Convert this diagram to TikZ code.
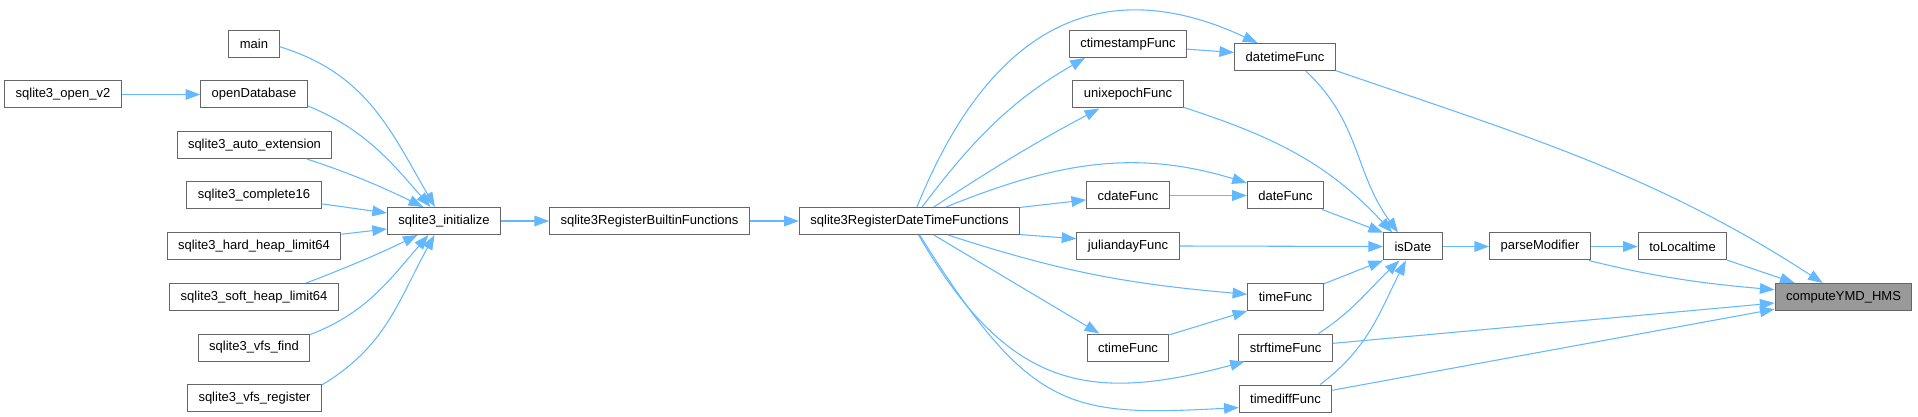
\documentclass[tikz,border=0pt]{standalone}
\usepackage{fontspec}
\setmainfont{Liberation Sans}
\usepackage{xcolor}
\usepackage{tikz}
\usetikzlibrary{arrows.meta}
\definecolor{edgeblue}{HTML}{63B8FF}
\definecolor{boxline}{HTML}{666666}
\definecolor{hitgray}{HTML}{999999}
\tikzset{
  fn/.style={draw=boxline, fill=white, line width=0.75pt, minimum height=20.25pt, inner xsep=8.25pt, inner ysep=0pt, font=\fontsize{9.75}{11}\selectfont},
  hit/.style={fn, fill=hitgray},
  call/.style={draw=edgeblue, line width=0.8pt, -{Triangle[length=11pt,width=8pt]}},
}
\begin{document}
\begin{tikzpicture}[x=0.75pt,y=0.75pt]
  \useasboundingbox (0,0) rectangle (1918,-417);
  \node[fn] (openv2) at (63,-94.5) {sqlite3\_open\_v2};
  \node[fn] (main) at (254,-44) {main};
  \node[fn] (opendb) at (254,-94.5) {openDatabase};
  \node[fn] (autoext) at (254.5,-145) {sqlite3\_auto\_extension};
  \node[fn] (compl) at (254,-195.5) {sqlite3\_complete16};
  \node[fn] (hardlim) at (254,-246.5) {sqlite3\_hard\_heap\_limit64};
  \node[fn] (softlim) at (254,-297) {sqlite3\_soft\_heap\_limit64};
  \node[fn] (vfsfind) at (254,-347.5) {sqlite3\_vfs\_find};
  \node[fn] (vfsreg) at (254.5,-398) {sqlite3\_vfs\_register};
  \node[fn] (init) at (444,-221) {sqlite3\_initialize};
  \node[fn] (builtin) at (649.5,-221) {sqlite3RegisterBuiltinFunctions};
  \node[fn] (dtreg) at (909.5,-221) {sqlite3RegisterDateTimeFunctions};
  \node[fn] (ctstamp) at (1128,-44) {ctimestampFunc};
  \node[fn] (unixep) at (1128,-94.5) {unixepochFunc};
  \node[fn] (cdate) at (1128,-195.5) {cdateFunc};
  \node[fn] (jday) at (1128,-246) {juliandayFunc};
  \node[fn] (ctime) at (1128,-347.5) {ctimeFunc};
  \node[fn] (dtime) at (1285,-57) {datetimeFunc};
  \node[fn] (date) at (1285.5,-195.5) {dateFunc};
  \node[fn] (time) at (1285.5,-297) {timeFunc};
  \node[fn] (strf) at (1285.5,-347.5) {strftimeFunc};
  \node[fn] (tdiff) at (1285.5,-398.5) {timediffFunc};
  \node[fn] (isdate) at (1413,-246.5) {isDate};
  \node[fn] (parsemod) at (1540,-246.5) {parseModifier};
  \node[fn] (toloc) at (1682.5,-246.5) {toLocaltime};
  \node[hit] (ymd) at (1843.5,-297) {computeYMD\_HMS};

  \draw[call] (openv2.east) -- (opendb.west);
  \draw[call] (main.-6) .. controls +(-17:90) and +(120:90) .. (init.123);
  \draw[call] (opendb.-12) .. controls +(-22:60) and +(131:60) .. (init.134);
  \draw[call] (autoext.-15) .. controls +(-18:45) and +(154:45) .. (init.146);
  \draw[call] (compl.-7) -- (init.172);
  \draw[call] (hardlim.8) -- (init.188);
  \draw[call] (softlim.15) .. controls +(21:45) and +(206:45) .. (init.208);
  \draw[call] (vfsfind.13) .. controls +(21:60) and +(229:60) .. (init.222);
  \draw[call] (vfsreg.11) .. controls +(31:75) and +(241:75) .. (init.236);
  \draw[call] (init.east) -- (builtin.west);
  \draw[call] (builtin.east) -- (dtreg.west);

  \draw[call] (dtreg.62) .. controls +(68:220) and +(155:150) .. (dtime.153);
  \draw[call] (dtreg.48) .. controls +(53:85) and +(210:85) .. (ctstamp.198);
  \draw[call] (dtreg.30) .. controls +(33:75) and +(208:75) .. (unixep.206);
  \draw[call] (dtreg.21) .. controls +(22:118) and +(163:118) .. (date.162);
  \draw[call] (dtreg.7) -- (cdate.186);
  \draw[call] (dtreg.-7) -- (jday.172);
  \draw[call] (dtreg.-20) .. controls +(-18:120) and +(175:120) .. (time.176);
  \draw[call] (dtreg.-30) -- (ctime.154);
  \draw[call] (dtreg.-57) .. controls +(-60:180) and +(195:160) .. (strf.199);
  \draw[call] (dtreg.-54) .. controls +(-58:210) and +(183:170) .. (tdiff.191);
  \draw[call] (ctstamp.-5) -- (dtime.175);
  \draw[call] (cdate.east) -- (date.west);
  \draw[call] (ctime.17) -- (time.200);

  \draw[call] (dtime.-34) .. controls +(-43:75) and +(126:75) .. (isdate.137);
  \draw[call] (unixep.-13) .. controls +(-18:95) and +(133:95) .. (isdate.146);
  \draw[call] (date.-21) -- (isdate.155);
  \draw[call] (jday.east) -- (isdate.west);
  \draw[call] (time.19) -- (isdate.205);
  \draw[call] (strf.23) .. controls +(33:42) and +(223:42) .. (isdate.226);
  \draw[call] (tdiff.22) .. controls +(37:60) and +(243:60) .. (isdate.243);
  \draw[call] (isdate.east) -- (parsemod.west);
  \draw[call] (parsemod.east) -- (toloc.west);

  \draw[call] (dtime.-15) .. controls +(-19:200) and +(147:200) .. (ymd.146);
  \draw[call] (toloc.-17) -- (ymd.164);
  \draw[call] (parsemod.-16) .. controls +(-14:70) and +(175:70) .. (ymd.174);
  \draw[call] (strf.5) -- (ymd.185);
  \draw[call] (tdiff.10) -- (ymd.190);
\end{tikzpicture}
\end{document}
